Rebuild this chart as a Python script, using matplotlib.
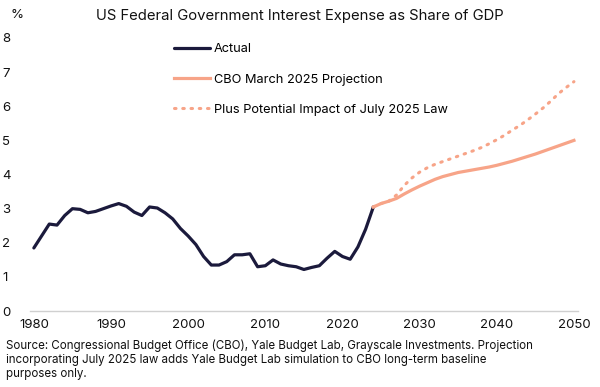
import matplotlib
matplotlib.use('Agg')
import matplotlib.pyplot as plt

plt.rcParams['font.family'] = ['Inter', 'DejaVu Sans']

# Фактические данные (1980-2024)
years_actual = list(range(1980, 2025))
actual = [1.85, 2.2, 2.55, 2.52, 2.8, 3.0, 2.98, 2.88, 2.92, 3.0,
          3.08, 3.15, 3.07, 2.9, 2.8, 3.05, 3.02, 2.88, 2.7, 2.42,
          2.2, 1.95, 1.6, 1.35, 1.35, 1.45, 1.65, 1.65, 1.68, 1.3,
          1.33, 1.5, 1.38, 1.33, 1.3, 1.22, 1.28, 1.33, 1.55, 1.75,
          1.6, 1.52, 1.88, 2.4, 3.05]

# Прогнозы (2024-2050)
years_proj = list(range(2024, 2051))
cbo = [3.05, 3.15, 3.22, 3.3, 3.43, 3.55, 3.66, 3.76, 3.86, 3.94,
       4.0, 4.06, 4.1, 4.14, 4.18, 4.22, 4.27, 4.33, 4.39, 4.46,
       4.53, 4.6, 4.68, 4.76, 4.84, 4.92, 5.0]
law = [3.05, 3.15, 3.22, 3.4, 3.68, 3.9, 4.07, 4.2, 4.3, 4.38,
       4.46, 4.54, 4.62, 4.7, 4.79, 4.9, 5.02, 5.15, 5.3, 5.44,
       5.6, 5.77, 5.95, 6.15, 6.37, 6.55, 6.72]

x_ticks = [1980, 1990, 2000, 2010, 2020, 2030, 2040, 2050]
y_ticks = [0, 1, 2, 3, 4, 5, 6, 7, 8]

navy = '#1b1a3c'
salmon = '#f7a488'

fig = plt.figure(figsize=(6, 3.87), dpi=100)
ax = fig.add_axes([0.05, 0.196, 0.913, 0.706])

ax.plot(years_actual, actual, color=navy, lw=2.3, label='Actual', solid_capstyle='round')
ax.plot(years_proj, cbo, color=salmon, lw=2.3, label='CBO March 2025 Projection')
ax.plot(years_proj, law, color=salmon, lw=2.2, linestyle=(0, (0.5, 2.2)),
        dash_capstyle='round', label='Plus Potential Impact of July 2025 Law')

ax.set_xlim(1979.5, 2050.5)
ax.set_ylim(0, 8)
ax.set_xticks(x_ticks)
ax.set_yticks(y_ticks)
ax.tick_params(length=0, labelsize=9.5, colors='#111111')
ax.tick_params(axis='x', pad=6)
for lab in ax.get_yticklabels():
    lab.set_horizontalalignment('left')
ax.yaxis.set_tick_params(pad=20)

for s in ['top', 'right', 'left']:
    ax.spines[s].set_visible(False)
ax.spines['bottom'].set_color('#d0d0d0')
ax.spines['bottom'].set_linewidth(1.0)

fig.text(11 / 600, 1 - 15 / 387, '%', fontsize=9.5, ha='left', va='center', color='#111111')
fig.text(300 / 600, 1 - 16 / 387, 'US Federal Government Interest Expense as Share of GDP',
         fontsize=10.7, ha='center', va='center', color='#111111')

ax.legend(loc='upper left', bbox_to_anchor=(168 / 600, 1 - 37 / 387),
          bbox_transform=fig.transFigure, frameon=False, fontsize=9.2,
          handlelength=2.8, handletextpad=0.3, labelspacing=1.42, borderpad=0)

source = ('Source: Congressional Budget Office (CBO), Yale Budget Lab, Grayscale Investments. Projection\n'
          'incorporating July 2025 law adds Yale Budget Lab simulation to CBO long-term baseline\n'
          'purposes only.')
fig.text(6 / 600, 1 - 340 / 387, source, fontsize=8.3, ha='left', va='top',
         color='#111111', linespacing=1.2)

fig.savefig('out.png', dpi=100)
